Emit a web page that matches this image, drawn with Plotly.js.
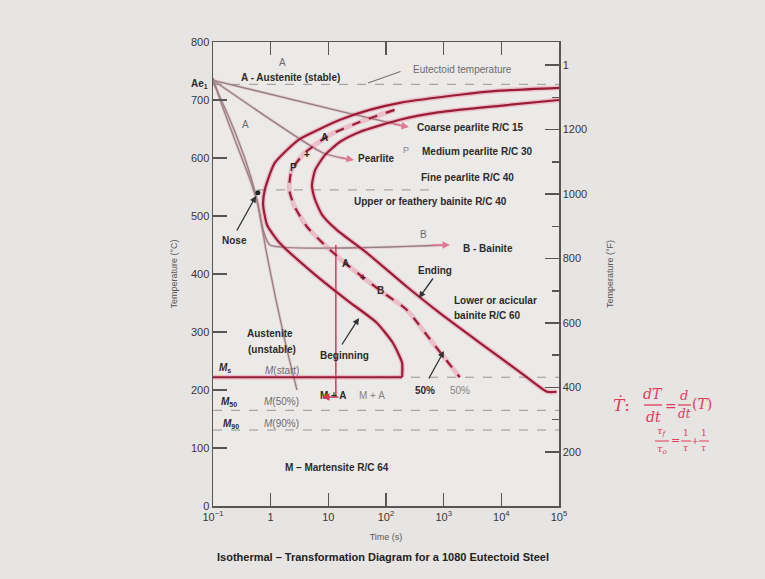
<!DOCTYPE html>
<html><head><meta charset="utf-8">
<script src="https://cdn.plot.ly/plotly-3.0.1.min.js"></script>
<style>html,body{margin:0;padding:0;background:#e7e4e4;}</style>
</head><body><div id="chart" style="width:765px;height:579px;"></div>
<script>
// ---- data (time in s, temperature in °C) ----
const beginTime = [100000, 9300, 1900, 174, 52, 16, 7.1, 3.0, 1.17, 0.79, 0.74, 0.87, 1.45, 5.4, 21, 69, 132, 190, 190];
const beginTemp = [721, 716, 709, 695, 683, 666, 650, 631, 591, 545, 519, 484, 453, 402, 355, 316, 281, 247, 222];
const endTime = [100000, 9300, 850, 174, 35, 16, 8.7, 5.9, 5.2, 5.9, 7.8, 14, 47, 230, 850, 4300, 21000, 62000, 91000];
const endTemp = [700, 690, 679, 666, 645, 628, 605, 579, 553, 528, 502, 476, 436, 378, 333, 281, 231, 197, 197];
const halfTime = [141, 35, 10.7, 3.9, 2.3, 2.1, 2.6, 4.3, 8.7, 19.5, 78, 230, 650, 1900];
const halfTemp = [683, 662, 640, 609, 579, 545, 516, 481, 450, 419, 372, 338, 281, 222];
const eutTemp = 727, msTemp = 222, m50Temp = 165, m90Temp = 131, bainiteSplitTemp = 545;
const timeRange = [0.1, 100000];
const msRedEnd = 190;
const splitLineTime = [0.6, 600];
const noseTime = [0.6], noseTemp = [540];
const pathCoarseTime = [0.1, 21, 210], pathCoarseTemp = [734, 678, 655];
const pathPearliteTime = [0.1, 8, 24], pathPearliteTemp = [734, 609, 597];
const pathAusTime = [0.1, 0.143, 0.24, 0.44, 0.60, 0.83, 1.24, 1.92, 2.86];
const pathAusTemp = [738, 691, 631, 562, 519, 441, 355, 269, 200];
const pathBainTime = [0.1, 0.197, 0.39, 0.58, 0.74, 0.97, 1135];
const pathBainTemp = [731, 666, 588, 528, 476, 450, 450];
const pathMATime = [13.5, 13.5], pathMATemp = [450, 188];
const xTickVals = [0.1, 1, 10, 100, 1000, 10000, 100000];
const xTickText = ['10<sup>−1</sup>', '1', '10', '10<sup>2</sup>', '10<sup>3</sup>', '10<sup>4</sup>', '10<sup>5</sup>'];
const fTickVals = [200, 400, 600, 800, 1000, 1200, 1400];
const fTickText = ['200', '400', '600', '800', '1000', '1200', '1'];
const fMinorVals = [300, 500, 700, 900, 1100, 1300];

// ---- styling ----
const DARK = '#9a1d38', PINK = 'rgba(236,120,150,0.38)', GRAY = '#8c8484';
function curve(x, y, opts) {
  return Object.assign({x: x, y: y, type: 'scatter', mode: 'lines', hoverinfo: 'skip', showlegend: false}, opts);
}
const traces = [];
function redCurve(x, y, dash, shape) {
  traces.push(curve(x, y, {line: {color: PINK, width: 5, shape: shape || 'spline', smoothing: 0.55}}));
  traces.push(curve(x, y, {line: {color: DARK, width: 2.2, dash: dash || 'solid', shape: shape || 'spline', smoothing: 0.55}}));
}
function grayPath(x, y) {
  traces.push(curve(x, y, {line: {color: 'rgba(236,120,150,0.3)', width: 3, shape: 'spline', smoothing: 0.5}}));
  traces.push(curve(x, y, {line: {color: GRAY, width: 1.3, shape: 'spline', smoothing: 0.5}}));
}
// reference dashed lines
traces.push(curve(timeRange, [eutTemp, eutTemp], {line: {color: '#9a9494', width: 1, dash: 'dash'}}));
traces.push(curve(timeRange, [msTemp, msTemp], {line: {color: '#9a9494', width: 1, dash: 'dash'}}));
traces.push(curve(timeRange, [m50Temp, m50Temp], {line: {color: '#9a9494', width: 1, dash: 'dash'}}));
traces.push(curve(timeRange, [m90Temp, m90Temp], {line: {color: '#9a9494', width: 1, dash: 'dash'}}));
traces.push(curve(splitLineTime, [bainiteSplitTemp, bainiteSplitTemp], {line: {color: '#9a9494', width: 1, dash: 'dash'}}));
// cooling paths
grayPath(pathCoarseTime, pathCoarseTemp);
grayPath(pathPearliteTime, pathPearliteTemp);
grayPath(pathAusTime, pathAusTemp);
grayPath(pathBainTime, pathBainTemp);
traces.push(curve(pathMATime, pathMATemp, {line: {color: '#d8365a', width: 1.5}}));
// transformation curves
redCurve(beginTime, beginTemp);
redCurve(halfTime, halfTemp, 'dash');
redCurve(endTime, endTemp);
redCurve([timeRange[0], msRedEnd], [msTemp, msTemp], 'solid', 'linear');
traces.push({x: noseTime, y: noseTemp, type: 'scatter', mode: 'markers', marker: {color: '#222', size: 5}, hoverinfo: 'skip', showlegend: false});
// invisible trace for the °F axis
traces.push({x: [timeRange[0]], y: [32], yaxis: 'y2', type: 'scatter', mode: 'markers', marker: {opacity: 0}, hoverinfo: 'skip', showlegend: false});

// ---- annotations (pixel positions -> paper) ----
const L = 213, R = 559, T = 42, B = 506;
function P(px, py) { return {x: (px - L) / (R - L), y: (B - py) / (B - T)}; }
const ann = [];
const FONT = 'Liberation Sans, Arial, sans-serif';
function txt(px, py, text, o) {
  o = o || {};
  const p = P(px, py);
  ann.push({xref: 'paper', yref: 'paper', x: p.x, y: p.y, text: text, showarrow: false,
    xanchor: o.xanchor || 'center', yanchor: 'middle', align: o.align || 'center',
    font: {family: o.family || FONT, size: o.size || 10, color: o.color || '#2e2a2a'}});
}
function bold(px, py, text, o) { txt(px, py, '<b>' + text + '</b>', o); }
function arrow(hx, hy, tx, ty, color, head, w) {
  const p = P(hx, hy);
  ann.push({xref: 'paper', yref: 'paper', x: p.x, y: p.y, ax: tx - hx, ay: ty - hy, text: '',
    showarrow: true, arrowcolor: color || '#333', arrowwidth: w || 1.3, arrowhead: head === undefined ? 2 : head, arrowsize: 1});
}
txt(282, 62, 'A', {color: '#6f6a6a'});
bold(290, 77, 'A - Austenite (stable)');
txt(462, 70, 'Eutectoid temperature', {color: '#6f6a6a'});
bold(199, 84, 'Ae<sub>1</sub>');
txt(245, 124, 'A', {color: '#6f6a6a'});
bold(324, 137, 'A');
bold(307, 154, '+');
bold(293, 167, 'P');
bold(470, 127, 'Coarse pearlite R/C 15');
bold(376, 158, 'Pearlite');
txt(406, 150, 'P', {color: '#8a8282', size: 9});
bold(477, 152, 'Medium pearlite R/C 30');
bold(467, 177, 'Fine pearlite R/C 40');
bold(430, 201, 'Upper or feathery bainite R/C 40');
bold(234, 240, 'Nose');
txt(423, 234, 'B', {color: '#6f6a6a'});
bold(488, 248, 'B - Bainite');
bold(345, 263, 'A');
bold(363, 277, '+');
bold(380, 290, 'B');
bold(435, 270, 'Ending');
bold(452, 300, 'Lower or acicular', {xanchor: 'left'});
bold(452, 315, 'bainite R/C 60', {xanchor: 'left'});
bold(270, 333, 'Austenite');
bold(272, 349, '(unstable)');
bold(344, 355, 'Beginning');
bold(225, 368, '<i>M</i><sub>s</sub>');
txt(282, 370, '<i>M</i>(start)', {color: '#6f6a6a'});
bold(425, 390, '50%');
txt(460, 390, '50%', {color: '#8a8282'});
bold(333, 395, 'M + A');
txt(372, 395, 'M + A', {color: '#8a8282'});
bold(229, 402, '<i>M</i><sub>50</sub>');
txt(281, 401, '<i>M</i>(50%)', {color: '#6f6a6a'});
bold(231, 424, '<i>M</i><sub>90</sub>');
txt(281, 423, '<i>M</i>(90%)', {color: '#6f6a6a'});
bold(337, 467, 'M – Martensite R/C 64');
bold(383, 557, 'Isothermal – Transformation Diagram for a 1080 Eutectoid Steel', {size: 11, color: '#222'});
// arrows
arrow(368, 83, 402, 71, '#7a7474', 0, 1.2);
arrow(256, 196, 236, 232, '#333');
arrow(419, 298, 434, 277, '#333');
arrow(359, 318, 341, 346, '#333');
arrow(444, 351, 428, 380, '#333');
arrow(409, 127, 392, 124, '#e27a95', 2, 1.5);
arrow(354, 160, 338, 157, '#e27a95', 2, 1.5);
arrow(450, 245, 430, 245, '#e27a95', 2, 1.5);
arrow(322, 397, 340, 397, '#d8365a', 2, 1.5);
// handwritten notes (red)
const RED = '#e23a5a', HF = 'DejaVu Serif, serif';
txt(621, 405, '<i>Ṫ</i>:', {color: RED, size: 17, family: HF});
txt(653, 394, '<i>dT</i>', {color: RED, size: 14, family: HF});
txt(653, 417, '<i>dt</i>', {color: RED, size: 14, family: HF});
txt(671, 406, '=', {color: RED, size: 14, family: HF});
txt(684, 395, '<i>d</i>', {color: RED, size: 13, family: HF});
txt(684, 414, '<i>dt</i>', {color: RED, size: 12, family: HF});
txt(702, 404, '(<i>T</i>)', {color: RED, size: 14, family: HF});
txt(662, 432, '<i>τ<sub>f</sub></i>', {color: RED, size: 10, family: HF});
txt(662, 449, '<i>τ<sub>o</sub></i>', {color: RED, size: 10, family: HF});
txt(675, 440, '=', {color: RED, size: 11, family: HF});
txt(686, 433, '1', {color: RED, size: 9, family: HF});
txt(686, 448, '<i>τ</i>', {color: RED, size: 9, family: HF});
txt(695, 440, '+', {color: RED, size: 10, family: HF});
txt(704, 433, '1', {color: RED, size: 9, family: HF});
txt(704, 448, '<i>τ</i>', {color: RED, size: 9, family: HF});

const shapes = [
  {type: 'line', xref: 'paper', yref: 'paper', x0: P(644, 0).x, x1: P(662, 0).x, y0: P(0, 405).y, y1: P(0, 405).y, line: {color: RED, width: 1.3}},
  {type: 'line', xref: 'paper', yref: 'paper', x0: P(678, 0).x, x1: P(691, 0).x, y0: P(0, 405).y, y1: P(0, 405).y, line: {color: RED, width: 1.2}},
  {type: 'line', xref: 'paper', yref: 'paper', x0: P(655, 0).x, x1: P(669, 0).x, y0: P(0, 441).y, y1: P(0, 441).y, line: {color: RED, width: 1}},
  {type: 'line', xref: 'paper', yref: 'paper', x0: P(681, 0).x, x1: P(691, 0).x, y0: P(0, 441).y, y1: P(0, 441).y, line: {color: RED, width: 1}},
  {type: 'line', xref: 'paper', yref: 'paper', x0: P(699, 0).x, x1: P(709, 0).x, y0: P(0, 441).y, y1: P(0, 441).y, line: {color: RED, width: 1}}
];

const axisFont = {family: FONT, size: 11, color: '#3a3636'};
const layout = {
  width: 765, height: 579,
  margin: {l: L, r: 765 - R, t: T, b: 579 - B},
  paper_bgcolor: '#e7e4e4', plot_bgcolor: '#ebeae9',
  showlegend: false,
  xaxis: {type: 'log', range: [-1, 5], tickvals: xTickVals, ticktext: xTickText, ticks: 'inside', ticklen: 13,
    tickcolor: '#5a5555', tickwidth: 1.5, showline: true, linecolor: '#5a5555', linewidth: 1.5, mirror: 'ticks',
    showgrid: false, zeroline: false, tickfont: axisFont,
    title: {text: 'Time (s)', font: {family: FONT, size: 9, color: '#5a5555'}, standoff: 12}},
  yaxis: {range: [0, 800], dtick: 100, ticks: 'inside', ticklen: 14, tickcolor: '#5a5555', tickwidth: 1.5,
    showline: true, linecolor: '#5a5555', linewidth: 1.5, showgrid: false, zeroline: false, tickfont: axisFont,
    title: {text: 'Temperature (°C)', font: {family: FONT, size: 9, color: '#5a5555'}, standoff: 12}},
  yaxis2: {overlaying: 'y', side: 'right', range: [32, 1472], tickvals: fTickVals, ticktext: fTickText,
    ticks: 'inside', ticklen: 14, tickcolor: '#5a5555', tickwidth: 1.5, showline: true, linecolor: '#5a5555', linewidth: 1.5,
    showgrid: false, zeroline: false, tickfont: axisFont,
    minor: {tickvals: fMinorVals, ticks: 'inside', ticklen: 7, tickcolor: '#5a5555', showgrid: false},
    title: {text: 'Temperature (°F)', font: {family: FONT, size: 9, color: '#5a5555'}, standoff: 20}},
  annotations: ann,
  shapes: shapes
};
Plotly.newPlot('chart', traces, layout, {staticPlot: true, displayModeBar: false});
</script></body></html>
